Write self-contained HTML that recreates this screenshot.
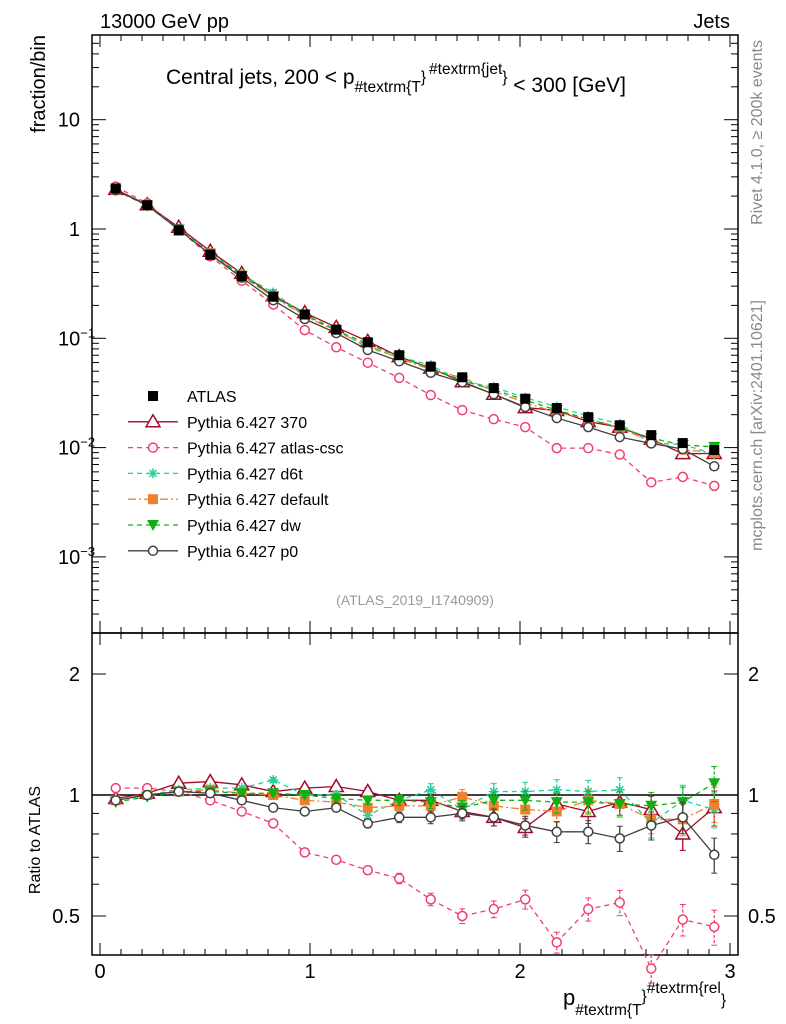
<!DOCTYPE html>
<html><head><meta charset="utf-8"><style>
body{margin:0;background:#fff}
svg{display:block;font-family:"Liberation Sans",sans-serif}
</style></head><body>
<svg id="c" width="786" height="1024"></svg>
<script>
const xCenters=[0.075,0.225,0.375,0.525,0.675,0.825,0.975,1.125,1.275,1.425,1.575,1.725,1.875,2.025,2.175,2.325,2.475,2.625,2.775,2.925];
const atlas=[2.35,1.65,0.97,0.58,0.37,0.24,0.165,0.12,0.092,0.07,0.055,0.044,0.035,0.028,0.023,0.019,0.016,0.013,0.011,0.0095];
const relErr=[0.01,0.01,0.012,0.012,0.012,0.014,0.016,0.02,0.024,0.03,0.036,0.042,0.048,0.054,0.06,0.066,0.072,0.08,0.09,0.1];
const r370=[0.98,1.01,1.07,1.08,1.06,1.02,1.04,1.05,1.02,0.97,0.97,0.91,0.88,0.83,0.95,0.91,0.96,0.92,0.80,0.93];
const rCsc=[1.04,1.04,1.02,0.97,0.91,0.85,0.72,0.69,0.65,0.62,0.55,0.50,0.52,0.55,0.43,0.52,0.54,0.37,0.49,0.47];
const rD6t=[0.97,1.0,1.03,1.04,1.04,1.09,1.0,1.0,0.89,0.97,1.03,0.92,1.02,1.02,1.03,1.02,1.03,0.85,0.97,0.92];
const rDef=[0.97,1.0,1.02,1.03,1.01,1.0,0.97,0.96,0.93,0.94,0.94,0.99,0.94,0.92,0.91,0.97,0.95,0.87,0.87,0.95];
const rDw=[0.96,0.99,1.02,1.02,1.01,1.01,1.0,0.98,0.97,0.97,0.96,0.93,0.97,0.97,0.96,0.96,0.95,0.94,0.96,1.07];
const rP0=[0.97,1.0,1.02,1.01,0.97,0.93,0.91,0.93,0.85,0.88,0.88,0.9,0.88,0.84,0.81,0.81,0.78,0.84,0.88,0.71];
const series=[
 {name:'Pythia 6.427 370',r:r370,c:'#a00a28',dash:'',m:'tri',id:'370'},
 {name:'Pythia 6.427 atlas-csc',r:rCsc,c:'#f0406a',dash:'5,4',m:'circ',id:'atlas-csc'},
 {name:'Pythia 6.427 d6t',r:rD6t,c:'#22d0a0',dash:'5,4',m:'star',id:'d6t'},
 {name:'Pythia 6.427 default',r:rDef,c:'#f08030',dash:'8,3,2,3',m:'sq',id:'default'},
 {name:'Pythia 6.427 dw',r:rDw,c:'#10b010',dash:'5,4',m:'tridown',id:'dw'},
 {name:'Pythia 6.427 p0',r:rP0,c:'#404040',dash:'',m:'circ',id:'p0'}];
const svg=document.getElementById('c');const NS='http://www.w3.org/2000/svg';
function el(t,a,p){const e=document.createElementNS(NS,t);for(const k in a)e.setAttribute(k,a[k]);(p||svg).appendChild(e);return e;}
const L=92,R=738,T=35,M=633,B=955;
const X=v=>100+v*210;
const Y=v=>229-Math.log10(v)*109.3;
const YR=v=>795-Math.log10(v)*402;
let f1=el('rect',{x:L,y:T,width:R-L,height:M-T,fill:'none',stroke:'#000','stroke-width':1.5});

let f2=el('rect',{x:L,y:M,width:R-L,height:B-M,fill:'none',stroke:'#000','stroke-width':1.5});

for(let v=0;v<=3.0001;v+=0.1){const x=X(v);const maj=Math.abs(v-Math.round(v))<1e-6;const l=maj?12:6;
 [[T,1],[M,-1],[M,1],[B,-1]].forEach(([y,d])=>el('line',{x1:x,x2:x,y1:y,y2:y+d*l,stroke:'#000'}));}
[0,1,2,3].forEach(v=>{const t=el('text',{x:X(v),y:978,'font-size':20,'text-anchor':'middle'});t.textContent=v;});
for(let e=-4;e<=1;e++){for(let k=1;k<10;k++){const v=k*Math.pow(10,e);const y=Y(v);if(y<T||y>M)continue;const l=k==1?14:7;
 el('line',{x1:L,x2:L+l,y1:y,y2:y,stroke:'#000'});el('line',{x1:R,x2:R-l,y1:y,y2:y,stroke:'#000'});}}
const ylab=[[10,'10'],[1,'1'],[0.1,'10<tspan dy="-8" font-size="13">−1</tspan>'],[0.01,'10<tspan dy="-8" font-size="13">−2</tspan>'],[0.001,'10<tspan dy="-8" font-size="13">−3</tspan>']];
ylab.forEach(([v,s])=>{const t=el('text',{x:v>=1?80:58,y:Y(v)+7,'font-size':20,'text-anchor':v>=1?'end':'start'});t.innerHTML=s;});
[0.4,0.5,0.6,0.7,0.8,0.9,1,2].forEach(v=>{const y=YR(v);if(y>B)return;const l=(v==0.5||v==1||v==2)?14:7;el('line',{x1:L,x2:L+l,y1:y,y2:y,stroke:'#000'});el('line',{x1:R,x2:R-l,y1:y,y2:y,stroke:'#000'});});
[[2,'2'],[1,'1'],[0.5,'0.5']].forEach(([v,s])=>{[[80,'end'],[748,'start']].forEach(([x,a])=>{const t=el('text',{x:x,y:YR(v)+7,'font-size':20,'text-anchor':a});t.textContent=s;});});
el('line',{x1:L,x2:R,y1:YR(1),y2:YR(1),stroke:'#000','stroke-width':1.5});
function txt(x,y,s,a,name,extra){const t=el('text',Object.assign({x:x,y:y,'font-size':20,'text-anchor':a||'start'},extra||{}));t.innerHTML=s;return t;}
txt(100,28,'13000 GeV pp','start','header-left');
txt(730,28,'Jets','end','header-right');
txt(166,84,'Central jets, 200 &lt; p<tspan dy="8" font-size="15.5">#textrm{T</tspan><tspan dy="-10" font-size="15.5">}</tspan><tspan dy="-8" dx="3" font-size="15.5">#textrm{jet</tspan><tspan dy="8" font-size="15.5">}</tspan><tspan dy="10"> &lt; 300 [GeV]</tspan>','start','plot-title',{'font-size':21});
txt(45,35,'fraction/bin','end','y-axis-title',{transform:'rotate(-90 45 35)'});
txt(40,840,'Ratio to ATLAS','middle','ratio-axis-title',{transform:'rotate(-90 40 840)','font-size':16});
txt(563,1005,'p<tspan dy="10" font-size="15.5">#textrm{T</tspan><tspan dy="-14" font-size="15.5">}</tspan><tspan dy="-8" font-size="15.5">#textrm{rel</tspan><tspan dy="12" font-size="15.5">}</tspan>','start','x-axis-title',{'font-size':22});
txt(415,605,'(ATLAS_2019_I1740909)','middle','analysis-id',{fill:'#999','font-size':14});
txt(762,40,'Rivet 4.1.0, ≥ 200k events','end','rivet-label',{transform:'rotate(-90 762 40)',fill:'#888','font-size':16});
txt(762,300,'mcplots.cern.ch [arXiv:2401.10621]','end','mcplots-label',{transform:'rotate(-90 762 300)',fill:'#888','font-size':16});
function marker(g,m,x,y,c){const s=5;
 if(m=='tri')el('polygon',{points:`${x},${y-7} ${x-7},${y+5} ${x+7},${y+5}`,fill:'#fff',stroke:c,'stroke-width':1.5},g);
 else if(m=='circ')el('circle',{cx:x,cy:y,r:4.5,fill:'#fff',stroke:c,'stroke-width':1.5},g);
 else if(m=='sq')el('rect',{x:x-s,y:y-s,width:2*s,height:2*s,fill:c},g);
 else if(m=='tridown')el('polygon',{points:`${x-6},${y-5} ${x+6},${y-5} ${x},${y+6}`,fill:c},g);
 else if(m=='star'){[[0,1],[1,0],[0.7,0.7],[0.7,-0.7]].forEach(([a,b])=>el('line',{x1:x-a*5,y1:y-b*5,x2:x+a*5,y2:y+b*5,stroke:c,'stroke-width':1.5},g));}
 else if(m=='atlas')el('rect',{x:x-5,y:y-5,width:10,height:10,fill:'#000'},g);}
series.forEach(s=>{
 const g=el('g',{});
 const pm=xCenters.map((x,i)=>X(x)+','+Y(atlas[i]*s.r[i])).join(' ');
 el('polyline',{points:pm,fill:'none',stroke:s.c,'stroke-width':1.3,'stroke-dasharray':s.dash},g);
 const pr=xCenters.map((x,i)=>X(x)+','+YR(s.r[i])).join(' ');
 el('polyline',{points:pr,fill:'none',stroke:s.c,'stroke-width':1.3,'stroke-dasharray':s.dash},g);
 xCenters.forEach((x,i)=>{const r=s.r[i],e=relErr[i]*r;const px=X(x);
  el('line',{x1:px,x2:px,y1:YR(r+e),y2:YR(Math.max(r-e,0.3)),stroke:s.c,'stroke-width':1.3,'stroke-dasharray':s.dash?'3,2':''},g);
  el('line',{x1:px-3,x2:px+3,y1:YR(r+e),y2:YR(r+e),stroke:s.c},g);el('line',{x1:px-3,x2:px+3,y1:YR(r-e),y2:YR(r-e),stroke:s.c},g);
  marker(g,s.m,px,Y(atlas[i]*r),s.c);marker(g,s.m,px,YR(r),s.c);});
});
const ga=el('g',{});
xCenters.forEach((x,i)=>marker(ga,'atlas',X(x),Y(atlas[i]),'#000'));
const lg=el('g',{});
const rows=[{name:'ATLAS',m:'atlas',c:'#000',dash:null}].concat(series);
rows.forEach((s,i)=>{const y=396+i*25.8;
 if(s.dash!==null)el('line',{x1:128,x2:178,y1:y,y2:y,stroke:s.c,'stroke-width':1.3,'stroke-dasharray':s.dash},lg);
 marker(lg,s.m,153,y,s.c);
 const t=el('text',{x:187,y:y+6,'font-size':16},lg);t.textContent=s.name;});
</script>
</body></html>
